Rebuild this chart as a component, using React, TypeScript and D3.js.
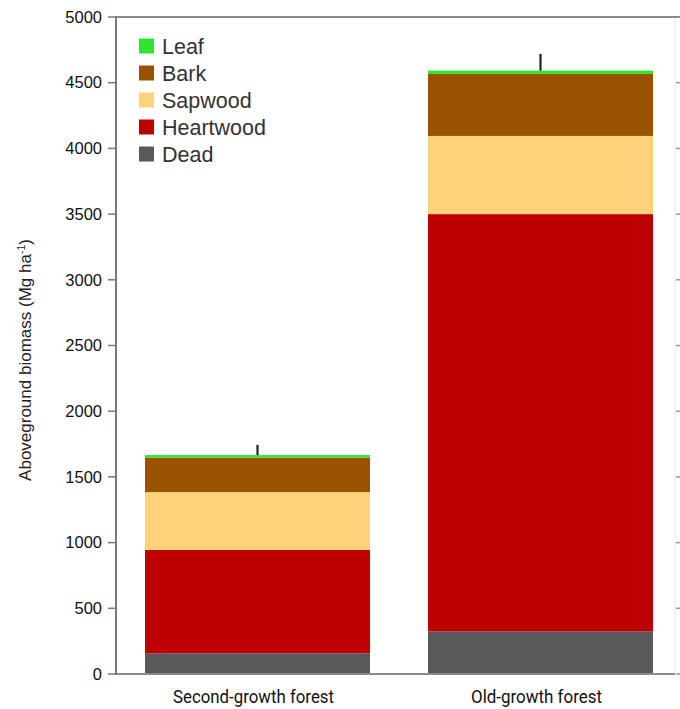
import React, { useEffect, useRef } from 'react';
import * as d3 from 'd3';

// forests on the x axis
const categories = ['Second-growth forest', 'Old-growth forest'];
// stacked components, bottom to top
const components = ['Dead', 'Heartwood', 'Sapwood', 'Bark', 'Leaf'];
const dead = [158, 325];
const heartwood = [786, 3175];
const sapwood = [440, 595];
const bark = [262, 472];
const leaf = [20, 25];
const errorTop = [78, 127];
const yTicks = [0, 500, 1000, 1500, 2000, 2500, 3000, 3500, 4000, 4500, 5000];
const legendOrder = ['Leaf', 'Bark', 'Sapwood', 'Heartwood', 'Dead'];

const colors: Record<string, string> = {
  Leaf: '#2de52d',
  Bark: '#985200',
  Sapwood: '#fed27a',
  Heartwood: '#bf0000',
  Dead: '#58595b',
};

const Chart = ({ width = 680, height = 709 }) => {
  const ref = useRef<SVGSVGElement>(null);

  useEffect(() => {
    document.body.style.margin = '0';
    const svg = d3.select(ref.current);
    svg.selectAll('*').remove();
    svg.attr('width', width).attr('height', height);

    const left = 116, top = 17, bottom = 674, right = 675;

    const table = categories.map((c, i) => ({
      name: c,
      Dead: dead[i],
      Heartwood: heartwood[i],
      Sapwood: sapwood[i],
      Bark: bark[i],
      Leaf: leaf[i],
      err: errorTop[i],
    }));

    const y = d3.scaleLinear().domain([0, 5000]).range([bottom, top]);
    const x = d3
      .scaleBand()
      .domain(categories)
      .range([left, 682])
      .paddingInner(0.205)
      .paddingOuter(0.1025);

    const stack = d3.stack<any>().keys(components);
    const series = stack(table);

    svg
      .append('g')
      .selectAll('g')
      .data(series)
      .enter()
      .append('g')
      .attr('fill', (d) => colors[d.key])
      .selectAll('rect')
      .data((d) => d)
      .enter()
      .append('rect')
      .attr('x', (d: any) => x(d.data.name)!)
      .attr('width', x.bandwidth())
      .attr('y', (d) => y(d[1]))
      .attr('height', (d) => y(d[0]) - y(d[1]));

    // error bars (upper only)
    svg
      .append('g')
      .selectAll('line')
      .data(table)
      .enter()
      .append('line')
      .attr('x1', (d) => x(d.name)! + x.bandwidth() / 2)
      .attr('x2', (d) => x(d.name)! + x.bandwidth() / 2)
      .attr('y1', (d) => y(d.Dead + d.Heartwood + d.Sapwood + d.Bark + d.Leaf))
      .attr('y2', (d) => y(d.Dead + d.Heartwood + d.Sapwood + d.Bark + d.Leaf + d.err))
      .attr('stroke', '#222')
      .attr('stroke-width', 2.2);

    // right axis (faint)
    const ra = svg.append('g').attr('transform', `translate(${right},0)`);
    ra.append('line').attr('y1', top).attr('y2', bottom).attr('stroke', '#e6e6e6').attr('stroke-width', 1);
    ra.selectAll('line.t')
      .data(yTicks)
      .enter()
      .append('line')
      .attr('class', 't')
      .attr('x1', 1)
      .attr('x2', 5)
      .attr('y1', (d) => y(d))
      .attr('y2', (d) => y(d))
      .attr('stroke', '#999')
      .attr('stroke-width', 1.5);

    // top and bottom frame lines
    svg.append('line').attr('x1', left).attr('x2', 680).attr('y1', top).attr('y2', top)
      .attr('stroke', '#8a8a8a').attr('stroke-width', 2);
    svg.append('line').attr('x1', left).attr('x2', right).attr('y1', bottom).attr('y2', bottom)
      .attr('stroke', '#8a8a8a').attr('stroke-width', 2);

    // left axis
    const la = svg.append('g').attr('transform', `translate(${left},0)`);
    la.append('line').attr('y1', top - 1).attr('y2', bottom + 1).attr('stroke', '#7a7a7a').attr('stroke-width', 2);
    la.selectAll('line.t')
      .data(yTicks)
      .enter()
      .append('line')
      .attr('class', 't')
      .attr('x1', -8)
      .attr('x2', 0)
      .attr('y1', (d) => y(d))
      .attr('y2', (d) => y(d))
      .attr('stroke', '#7a7a7a')
      .attr('stroke-width', 1.5);
    la.selectAll('text')
      .data(yTicks)
      .enter()
      .append('text')
      .attr('x', -14)
      .attr('y', (d) => y(d))
      .attr('dy', '0.35em')
      .attr('text-anchor', 'end')
      .style('font-family', '"Liberation Sans", Arial, sans-serif')
      .style('font-size', '16.5px')
      .attr('fill', '#111')
      .text((d) => d);

    // y axis title
    const title = svg
      .append('text')
      .attr('transform', `translate(31,360) rotate(-90)`)
      .attr('text-anchor', 'middle')
      .style('font-family', '"Liberation Sans", Arial, sans-serif')
      .style('font-size', '17px')
      .attr('fill', '#222');
    title.append('tspan').text('Aboveground biomass (Mg ha');
    title.append('tspan').attr('dy', -6).style('font-size', '10.5px').text('-1');
    title.append('tspan').attr('dy', 6).text(')');

    // x labels
    svg
      .append('g')
      .selectAll('text')
      .data(categories)
      .enter()
      .append('text')
      .attr('x', (d) => x(d)! + x.bandwidth() / 2 - 4)
      .attr('y', 703)
      .attr('text-anchor', 'middle')
      .attr('textLength', (d, i) => (i === 0 ? 161 : 131))
      .attr('lengthAdjust', 'spacingAndGlyphs')
      .style('font-family', '"Liberation Sans Narrow", Roboto, Arial, sans-serif')
      .style('font-size', '17.5px')
      .attr('fill', '#111')
      .text((d) => d);

    // legend
    const lg = svg
      .append('g')
      .selectAll('g')
      .data(legendOrder)
      .enter()
      .append('g')
      .attr('transform', (d, i) => `translate(139,${46 + i * 27})`);
    lg.append('rect')
      .attr('x', 0)
      .attr('y', -7.5)
      .attr('width', 15)
      .attr('height', 15)
      .attr('fill', (d) => colors[d]);
    lg.append('text')
      .attr('x', 23)
      .attr('y', 0)
      .attr('dy', '0.36em')
      .style('font-family', '"Liberation Sans", Arial, sans-serif')
      .style('font-size', '21.5px')
      .attr('fill', '#333')
      .text((d) => d);
  });

  return <svg ref={ref}></svg>;
};

export default function App() {
  return <Chart />;
}
